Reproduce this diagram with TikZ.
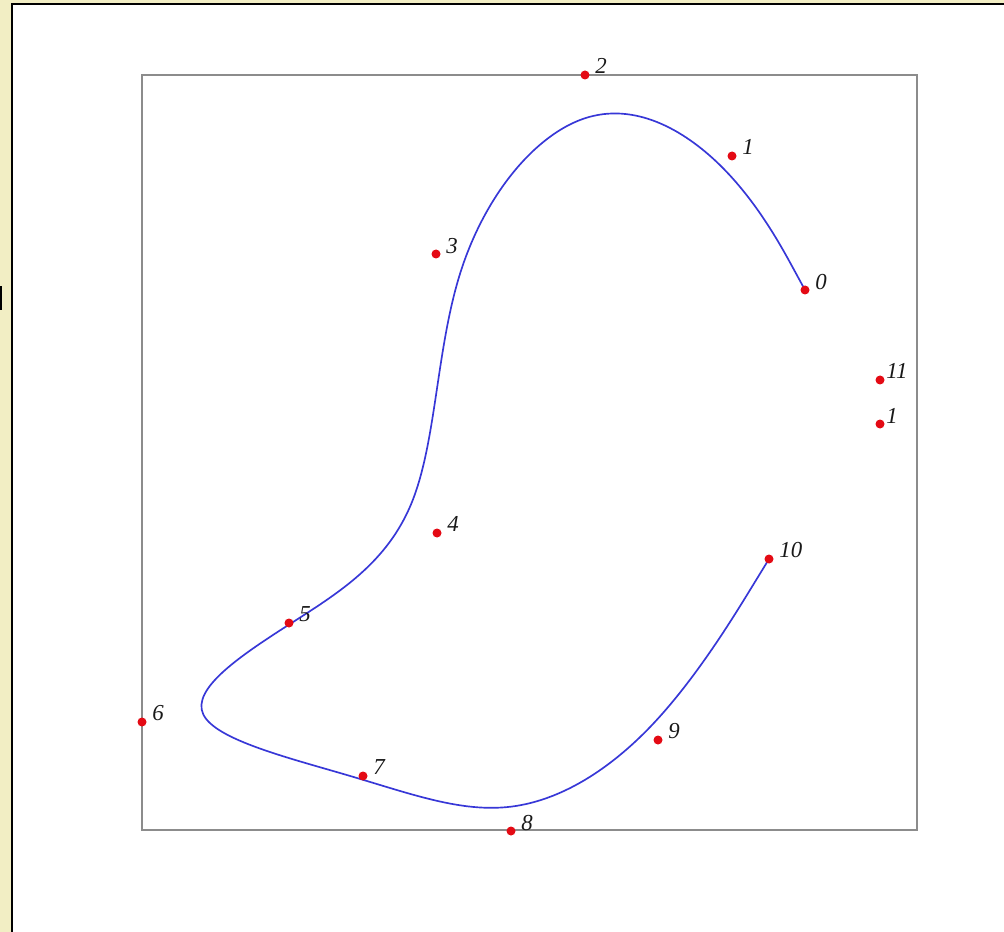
\documentclass[tikz,border=0pt]{standalone}
\usepackage{fontspec}
\setmainfont{Liberation Serif}
\usetikzlibrary{calc}
\definecolor{bgyellow}{RGB}{242,238,196}
\definecolor{framegray}{RGB}{140,140,140}
\definecolor{curveblue}{RGB}{55,55,215}
\definecolor{dotred}{RGB}{228,10,20}
\tikzset{
  ptdot/.style={circle, fill=dotred, inner sep=0pt, minimum size=9*0.02cm},
  ptlab/.style={anchor=west, inner sep=0pt, font=\fontsize{13}{15}\selectfont\itshape, text=black!90},
  splinecurve/.style={draw=curveblue, line width=0.95pt},
  boxframe/.style={draw=framegray, line width=1.1pt},
}
\begin{document}
\begin{tikzpicture}[x=0.02cm, y=-0.02cm]
\useasboundingbox (0,0) rectangle (1004,932);
% background
\fill[bgyellow] (0,0) rectangle (1004,932);
\fill[white] (12,4) rectangle (1004,932);
\draw[black, line width=1.2pt] (12,932) -- (12,4) -- (1004,4);
\fill[black] (0,286) rectangle (2,310);
% frame
\draw[boxframe] (142,75) rectangle (917,830);
% control points
\coordinate (P0) at (805,290);
\coordinate (P1) at (732,156);
\coordinate (P2) at (585,75);
\coordinate (P3) at (436,254);
\coordinate (P4) at (437,533);
\coordinate (P5) at (289,623);
\coordinate (P6) at (142,722);
\coordinate (P7) at (363,776);
\coordinate (P8) at (511,831);
\coordinate (P9) at (658,740);
\coordinate (P10) at (769,559);
\coordinate (P11) at (880,380);
\coordinate (P12) at (880,424);
% uniform cubic B-spline, end points tripled
\foreach \q/\p in {0/0,1/0,2/0,3/1,4/2,5/3,6/4,7/5,8/6,9/7,10/8,11/9,12/10,13/10,14/10} {
  \coordinate (Q\q) at (P\p);
}
\foreach \i [evaluate=\i as \b using int(\i+1), evaluate=\i as \c using int(\i+2)] in {0,...,12} {
  \coordinate (K\i) at ($0.16667*(Q\i)+0.66667*(Q\b)+0.16667*(Q\c)$);
  \coordinate (U\i) at ($(Q\b)!0.33333!(Q\c)$);
  \coordinate (V\i) at ($(Q\b)!0.66667!(Q\c)$);
}
\draw[splinecurve] (P0)
  \foreach \i [evaluate=\i as \j using int(\i+1)] in {0,...,11} {
    .. controls (U\i) and (V\i) .. (K\j)
  };
% dots
\foreach \i in {0,...,12} { \node[ptdot] (D\i) at (P\i) {}; }
% labels
\node[ptlab] (L0) at ($(P0)+(10,-8)$) {0};
\node[ptlab] (L1) at ($(P1)+(10,-9)$) {1};
\node[ptlab] (L2) at ($(P2)+(10,-9)$) {2};
\node[ptlab] (L3) at ($(P3)+(10,-8)$) {3};
\node[ptlab] (L4) at ($(P4)+(10,-9)$) {4};
\node[ptlab] (L5) at ($(P5)+(10,-9)$) {5};
\node[ptlab] (L6) at ($(P6)+(10,-9)$) {6};
\node[ptlab] (L7) at ($(P7)+(10,-9)$) {7};
\node[ptlab] (L8) at ($(P8)+(10,-8)$) {8};
\node[ptlab] (L9) at ($(P9)+(10,-9)$) {9};
\node[ptlab] (L10) at ($(P10)+(10,-9)$) {10};
\node[ptlab] (L11) at ($(P11)+(6,-9)$) {11};
\node[ptlab] (L12) at ($(P12)+(6,-8)$) {1};
\end{tikzpicture}
\end{document}
